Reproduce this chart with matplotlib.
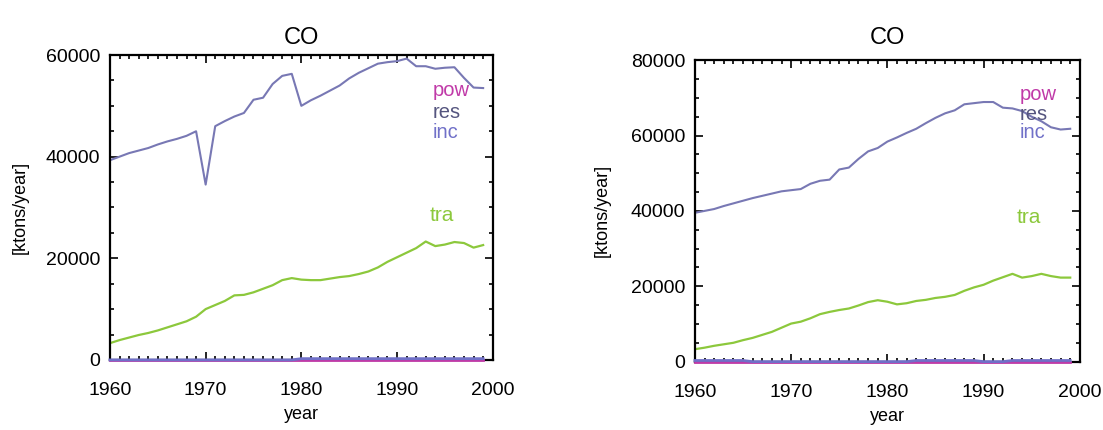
import numpy as np
import matplotlib
matplotlib.use('Agg')
import matplotlib.pyplot as plt
from matplotlib.ticker import MultipleLocator

years = np.arange(1960, 2000)

# left panel
res_left = [39300, 40000, 40700, 41200, 41700, 42400, 43000, 43500, 44100, 45000,
            34500, 46000, 47000, 47900, 48600, 51200, 51600, 54300, 55900, 56300,
            50000, 51100, 52000, 53000, 54000, 55400, 56500, 57400, 58300, 58600,
            58800, 59300, 57800, 57800, 57300, 57500, 57600, 55500, 53600, 53500]
tra_left = [3300, 3900, 4400, 4900, 5300, 5800, 6400, 7000, 7600, 8500,
            10000, 10800, 11600, 12700, 12800, 13300, 14000, 14700, 15700, 16100,
            15800, 15700, 15700, 16000, 16300, 16500, 16900, 17400, 18200, 19300,
            20200, 21100, 22000, 23300, 22400, 22700, 23200, 23000, 22100, 22600]
pow_left = [0] * 40
inc_left = [0] * 20 + [250] * 20

# right panel
res_right = [39500, 40000, 40500, 41300, 42000, 42700, 43400, 44000, 44600, 45200,
             45500, 45800, 47200, 48000, 48300, 51000, 51500, 53800, 55800, 56700,
             58400, 59500, 60700, 61800, 63300, 64700, 65900, 66700, 68300, 68600,
             68900, 68900, 67400, 67200, 66500, 65000, 63800, 62200, 61600, 61800]
tra_right = [3300, 3700, 4200, 4600, 5000, 5700, 6300, 7100, 7900, 9000,
             10100, 10600, 11500, 12600, 13200, 13700, 14100, 14900, 15800, 16300,
             15900, 15200, 15500, 16100, 16400, 16900, 17200, 17700, 18800, 19700,
             20400, 21500, 22400, 23300, 22300, 22700, 23300, 22700, 22300, 22300]
pow_right = [0] * 40
inc_right = [300] * 6 + [0] * 17 + [300] * 7 + [0] * 3 + [300] * 7

c_pow = '#c03aa8'
c_res = '#7878b4'
c_inc = '#7070c8'
c_tra = '#8cc83c'
c_res_lab = '#55557f'

plt.rcParams['font.family'] = ['Liberation Sans', 'DejaVu Sans']

fig = plt.figure(figsize=(11.03, 4.30), dpi=100)
ax1 = fig.add_axes([0.0997, 0.163, 0.347, 0.709])
ax2 = fig.add_axes([0.630, 0.159, 0.349, 0.701])


def draw(ax, res, tra, pw, inc, ymax, lab_y, tra_y, title_pad, ylpad):
    ax.plot(years, pw, color=c_pow, lw=2, clip_on=False, zorder=5)
    ax.plot(years, inc, color=c_inc, lw=2, clip_on=False, zorder=6)
    ax.plot(years, tra, color=c_tra, lw=1.6)
    ax.plot(years, res, color=c_res, lw=1.5)
    ax.set_xlim(1960, 2000)
    ax.set_ylim(0, ymax)
    ax.xaxis.set_major_locator(MultipleLocator(10))
    ax.xaxis.set_minor_locator(MultipleLocator(1))
    ax.yaxis.set_major_locator(MultipleLocator(20000))
    ax.yaxis.set_minor_locator(MultipleLocator(5000))
    ax.tick_params(which='both', direction='in', top=True, right=True, width=1.2)
    ax.tick_params(which='major', length=6, labelsize=14)
    ax.tick_params(which='minor', length=3)
    ax.tick_params(axis='x', pad=16)
    ax.tick_params(axis='y', pad=7)
    for s in ax.spines.values():
        s.set_linewidth(1.6)
    ax.set_title('CO', fontsize=17, pad=title_pad)
    ax.set_xlabel('year', fontsize=13, labelpad=5)
    ax.set_ylabel('[ktons/year]', fontsize=13, labelpad=ylpad)
    ax.text(1993.7, lab_y[0], 'pow', color=c_pow, fontsize=14.5, va='center')
    ax.text(1993.7, lab_y[1], 'res', color=c_res_lab, fontsize=14.5, va='center')
    ax.text(1993.7, lab_y[2], 'inc', color=c_inc, fontsize=14.5, va='center')
    ax.text(1993.4, tra_y, 'tra', color=c_tra, fontsize=15, va='center')


draw(ax1, res_left, tra_left, pow_left, inc_left, 60000,
     (53000, 48600, 44700), 28500, 8, 12)
draw(ax2, res_right, tra_right, pow_right, inc_right, 80000,
     (70800, 65700, 60800), 38200, 12, 14)

fig.savefig('out.png', dpi=100)
